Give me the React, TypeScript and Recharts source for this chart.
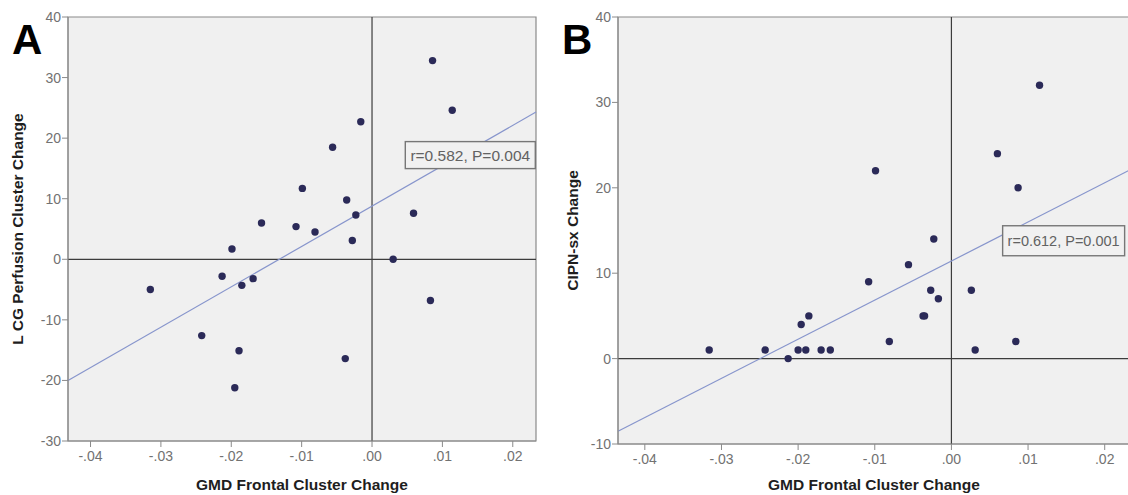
import React from "react";
import {
  ComposedChart,
  Scatter,
  XAxis,
  YAxis,
  ReferenceLine,
  ReferenceArea,
  ReferenceDot
} from "recharts";

// shared x axis (GMD frontal cluster change)
const gmdTicks = [-0.04, -0.03, -0.02, -0.01, 0, 0.01, 0.02];

// panel A : L CG perfusion
const gmdA = [0.0086, 0.0114, -0.0016, -0.0056, -0.0099, -0.0036, -0.0023, 0.0059, -0.0157, -0.0108, -0.0081, -0.0028, -0.0199, 0.003, -0.0213, -0.0185, -0.0169, -0.0315, 0.0083, -0.0242, -0.0189, -0.0038, -0.0195];
const perfusionA = [32.8, 24.6, 22.7, 18.5, 11.7, 9.8, 7.3, 7.6, 6.0, 5.4, 4.5, 3.1, 1.7, 0, -2.8, -4.3, -3.2, -5.0, -6.8, -12.6, -15.1, -16.4, -21.2];
const perfusionTicks = [-30, -20, -10, 0, 10, 20, 30, 40];
const fitAX = [-0.0432, 0.0233];
const fitAY = [-20.0, 24.3];

// panel B : CIPN-sx
const gmdB = [0.0115, 0.006, 0.0087, -0.0099, -0.0023, -0.0056, -0.0108, -0.0027, -0.0017, 0.0026, -0.0037, -0.0035, -0.0186, -0.0196, -0.0081, 0.0084, -0.0316, -0.0243, -0.02, -0.019, -0.017, -0.0158, 0.0031, -0.0213];
const cipnB = [32, 24, 20, 22, 14, 11, 9, 8, 7, 8, 5, 5, 5, 4, 2, 2, 1, 1, 1, 1, 1, 1, 1, 0];
const cipnTicks = [-10, 0, 10, 20, 30, 40];
const fitBX = [-0.0435, 0.0233];
const fitBY = [-8.5, 22.1];

const FONT = "Arial, 'Liberation Sans', sans-serif";

const fmtGmd = (v: number) => {
  if (Math.abs(v) < 1e-9) return ".00";
  const s = Math.abs(v).toFixed(2).replace(/^0/, "");
  return v < 0 ? "-" + s : s;
};

const Dot = (p: any) => <circle cx={p.cx} cy={p.cy} r={3.7} fill="#2b2a58" />;

const statBox = (text: string, w: number, h: number, fs: number) => (p: any) => (
  <g>
    <rect x={p.cx - w} y={p.cy - h / 2} width={w} height={h} fill="#f1f1f1" stroke="#777" strokeWidth={1.4} />
    <text x={p.cx - w / 2} y={p.cy + fs * 0.35} textAnchor="middle" fontSize={fs} fill="#626262" fontFamily={FONT}>
      {text}
    </text>
  </g>
);

type PanelProps = {
  xs: number[];
  ys: number[];
  xDomain: [number, number];
  yDomain: [number, number];
  yTicks: number[];
  yLabel: string;
  fitX: number[];
  fitY: number[];
  stat: string;
  statAt: { x: number; y: number };
  statSize: [number, number, number];
  width: number;
  height: number;
  yAxisWidth: number;
  xAxisHeight: number;
  marginRight: number;
  yLabelOffset: number;
};

const Panel: React.FC<PanelProps> = (p) => {
  const data = p.xs.map((x, i) => ({ x, y: p.ys[i] }));
  return (
    <ComposedChart
      width={p.width}
      height={p.height}
      data={data}
      margin={{ top: 17, right: p.marginRight, bottom: 0, left: 0 }}
      style={{ fontFamily: FONT }}
    >
      <XAxis
        type="number"
        dataKey="x"
        domain={p.xDomain}
        ticks={gmdTicks}
        allowDataOverflow
        tickFormatter={fmtGmd}
        height={p.xAxisHeight}
        tickSize={6}
        tickMargin={4}
        stroke="#8a8a8a"
        tick={{ fill: "#727272", fontSize: 14 }}
        label={{
          value: "GMD Frontal Cluster Change",
          position: "insideBottom",
          offset: 5,
          fill: "#1e1e1e",
          fontSize: 15.5,
          fontWeight: "bold"
        }}
      />
      <YAxis
        type="number"
        domain={p.yDomain}
        ticks={p.yTicks}
        allowDataOverflow
        width={p.yAxisWidth}
        tickSize={6}
        tickMargin={1}
        stroke="#8a8a8a"
        tick={{ fill: "#727272", fontSize: 14 }}
        label={{
          value: p.yLabel,
          angle: -90,
          position: "insideLeft",
          offset: p.yLabelOffset,
          fill: "#1e1e1e",
          fontSize: 15.5,
          fontWeight: "bold",
          style: { textAnchor: "middle" }
        }}
      />
      <ReferenceArea
        x1={p.xDomain[0]}
        x2={p.xDomain[1]}
        y1={p.yDomain[0]}
        y2={p.yDomain[1]}
        fill="#f0f0f0"
        fillOpacity={1}
        stroke="#8a8a8a"
        strokeWidth={1.2}
      />
      <ReferenceLine x={0} stroke="#3c3c3c" strokeWidth={1.2} />
      <ReferenceLine y={0} stroke="#3c3c3c" strokeWidth={1.2} />
      <ReferenceLine
        segment={[
          { x: p.fitX[0], y: p.fitY[0] },
          { x: p.fitX[1], y: p.fitY[1] }
        ]}
        stroke="#8795cc"
        strokeWidth={1.2}
      />
      <ReferenceDot
        x={p.statAt.x}
        y={p.statAt.y}
        shape={statBox(p.stat, p.statSize[0], p.statSize[1], p.statSize[2])}
      />
      <Scatter dataKey="y" shape={Dot} isAnimationActive={false} />
    </ComposedChart>
  );
};

const letterStyle: React.CSSProperties = {
  position: "absolute",
  top: 19,
  fontFamily: FONT,
  fontWeight: "bold",
  fontSize: 42,
  lineHeight: "42px",
  color: "#000"
};

export default function App() {
  return (
    <div
      style={{
        position: "fixed",
        left: 0,
        top: 0,
        width: 1128,
        height: 495,
        overflow: "hidden",
        background: "#fff"
      }}
    >
      <div style={{ position: "absolute", left: 0, top: 0 }}>
        <Panel
          xs={gmdA}
          ys={perfusionA}
          xDomain={[-0.0432, 0.0233]}
          yDomain={[-30, 40]}
          yTicks={perfusionTicks}
          yLabel="L CG Perfusion Cluster Change"
          fitX={fitAX}
          fitY={fitAY}
          stat="r=0.582, P=0.004"
          statAt={{ x: 0.0232, y: 17.2 }}
          statSize={[130, 27, 15.5]}
          width={560}
          height={495}
          yAxisWidth={68}
          xAxisHeight={54}
          marginRight={24}
          yLabelOffset={17}
        />
      </div>
      <div style={{ position: "absolute", left: 560, top: 0 }}>
        <Panel
          xs={gmdB}
          ys={cipnB}
          xDomain={[-0.0435, 0.0233]}
          yDomain={[-10, 40]}
          yTicks={cipnTicks}
          yLabel="CIPN-sx Change"
          fitX={fitBX}
          fitY={fitBY}
          stat="r=0.612, P=0.001"
          statAt={{ x: 0.0226, y: 13.8 }}
          statSize={[122, 30, 14.5]}
          width={580}
          height={495}
          yAxisWidth={58}
          xAxisHeight={51}
          marginRight={10}
          yLabelOffset={12}
        />
      </div>
      <div style={{ ...letterStyle, left: 12 }}>A</div>
      <div style={{ ...letterStyle, left: 562 }}>B</div>
    </div>
  );
}
